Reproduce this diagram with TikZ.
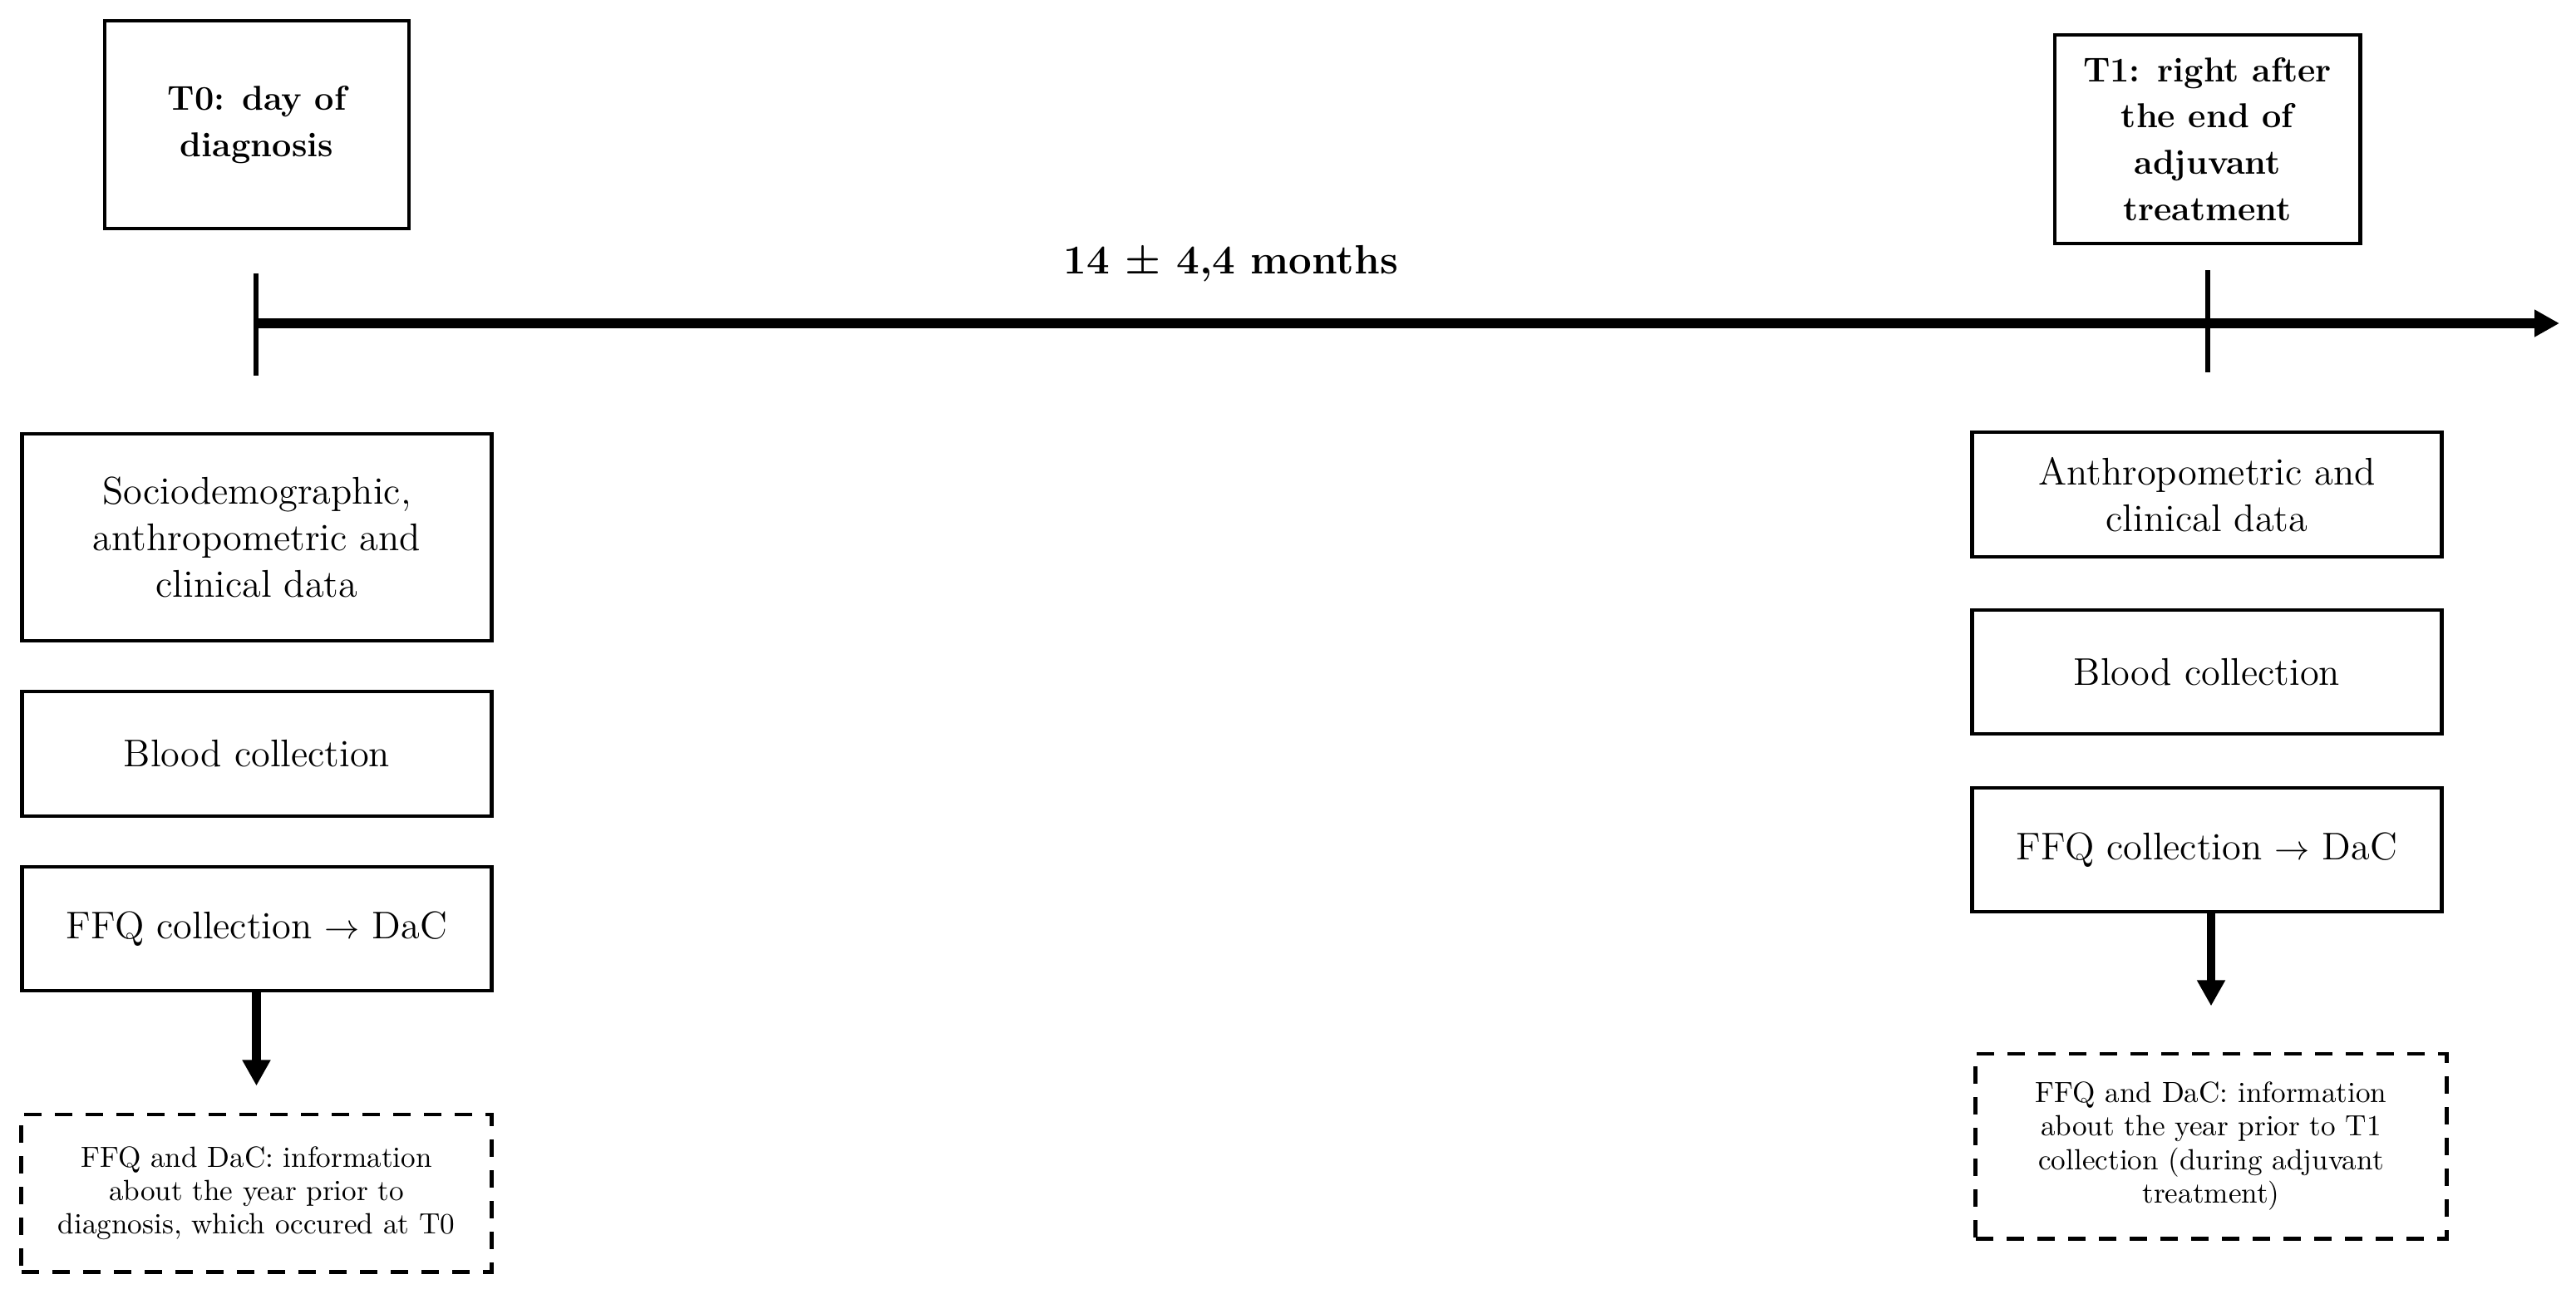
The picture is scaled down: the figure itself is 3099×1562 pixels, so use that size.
\documentclass[tikz,border=0pt]{standalone}
\usepackage{fontspec}
\usetikzlibrary{arrows.meta}
\begin{document}
\begin{tikzpicture}[x=0.01cm,y=-0.01cm,
  box/.style={draw, line width=1.35pt, inner sep=0pt, align=center, font=\fontsize{13.2}{15.9}\selectfont},
  titlebox/.style={box, font=\fontsize{11.8}{15.9}\selectfont\bfseries},
  notebox/.style={draw, line width=1.4pt, dash pattern=on 0.21cm off 0.16cm, inner sep=0pt, align=center, font=\fontsize{10}{11.4}\selectfont},
  axisline/.style={line width=0.115cm, -{Triangle[length=0.30cm,width=0.31cm]}},
  tickline/.style={line width=0.06cm},
  downarrow/.style={line width=0.1cm, -{Triangle[length=0.31cm,width=0.32cm]}},
  durlabel/.style={font=\fontsize{14}{16}\selectfont\bfseries, anchor=base, inner sep=0pt}
]
\useasboundingbox (0,0) rectangle (3099,1562);

% time points
\node[titlebox, minimum width=3.66cm, minimum height=2.50cm] (t0) at (309,150) {T0: day of\\diagnosis};
\node[titlebox, minimum width=3.67cm, minimum height=2.51cm] (t1) at (2655.5,167.5) {T1: right after\\the end of\\adjuvant\\treatment};

% timeline
\coordinate (ax0) at (308,389);
\coordinate (ax1) at (3079,389);
\draw[axisline] (ax0) -- (ax1);
\coordinate (tk0a) at (308,329);
\coordinate (tk0b) at (308,452);
\coordinate (tk1a) at (2656,325);
\coordinate (tk1b) at (2656,448);
\draw[tickline] (tk0a) -- (tk0b);
\draw[tickline] (tk1a) -- (tk1b);
\node[durlabel] (dur) at (1481,329) {14 ± 4,4 months};

% left column
\node[box, minimum width=5.64cm, minimum height=2.49cm] (a0) at (309,646.5) {Sociodemographic,\\anthropometric and\\clinical data};
\node[box, minimum width=5.64cm, minimum height=1.50cm] (b0) at (309,907) {Blood collection};
\node[box, minimum width=5.64cm, minimum height=1.49cm] (c0) at (309,1117.5) {FFQ collection $\rightarrow$ DaC};
\node[notebox, minimum width=5.65cm, minimum height=1.89cm] (d0) at (308.5,1435.5) {FFQ and DaC: information\\about the year prior to\\diagnosis, which occured at T0};
\draw[downarrow] (c0.south -| d0.north) -- ([yshift=0.32cm]d0.north);

% right column
\node[box, minimum width=5.64cm, minimum height=1.50cm] (a1) at (2655,595) {Anthropometric and\\clinical data};
\node[box, minimum width=5.64cm, minimum height=1.49cm] (b1) at (2655,808.5) {Blood collection};
\node[box, minimum width=5.64cm, minimum height=1.49cm] (c1) at (2655,1022.5) {FFQ collection $\rightarrow$ DaC};
\node[notebox, minimum width=5.66cm, minimum height=2.22cm] (d1) at (2660,1379) {FFQ and DaC: information\\about the year prior to T1\\collection (during adjuvant\\treatment)};
\draw[downarrow] (c1.south -| d1.north) -- ([yshift=0.55cm]d1.north);
\end{tikzpicture}
\end{document}
